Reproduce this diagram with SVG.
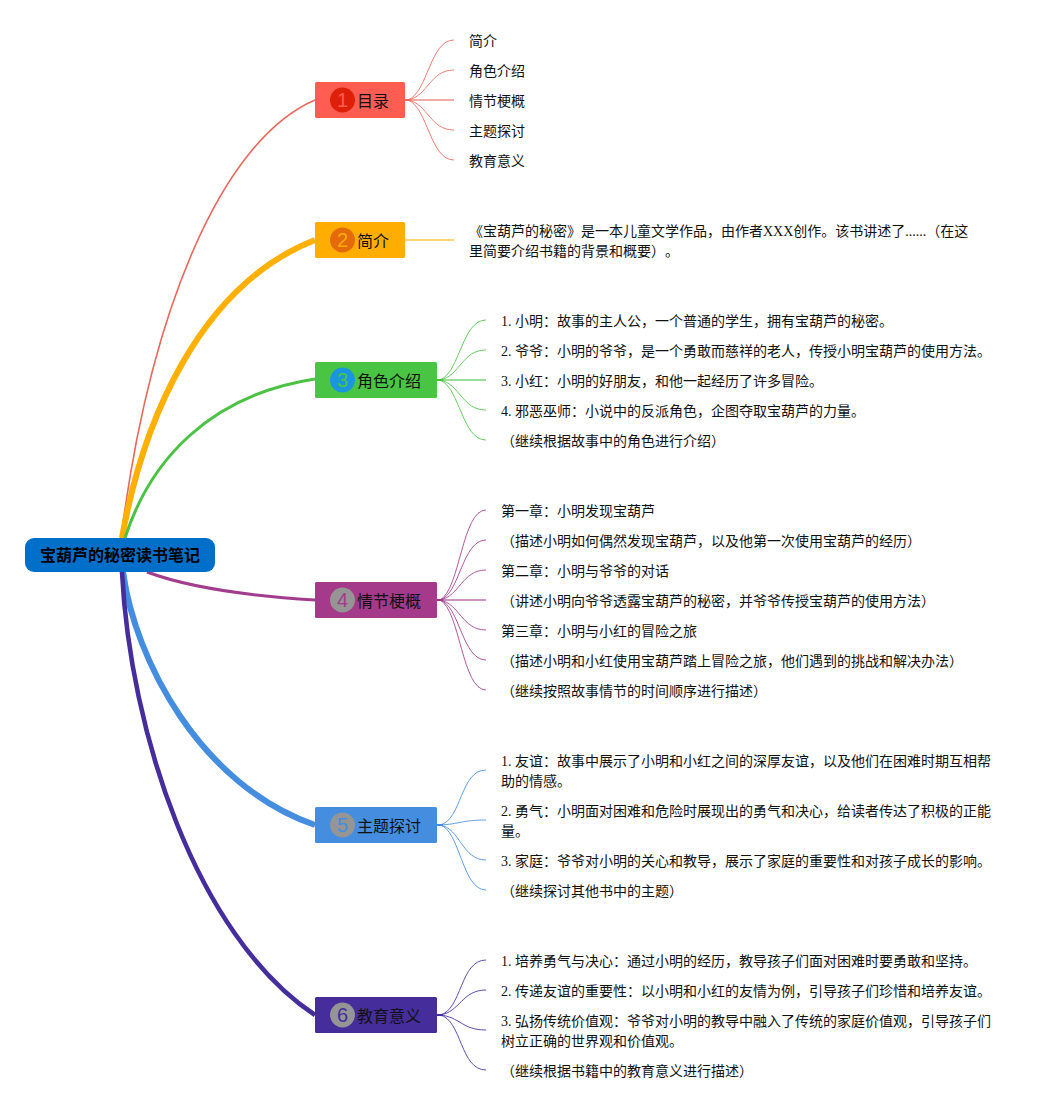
<svg xmlns="http://www.w3.org/2000/svg" width="1061" height="1110" viewBox="0 0 1061 1110">
<style>
text{font-family:"Liberation Serif","Noto Sans CJK SC",serif;font-size:14px;fill:#111;text-spacing-trim:space-all}
.t{font-family:"Noto Sans CJK SC","Liberation Sans",sans-serif;font-size:16px;fill:#111}
.n{font-family:"Liberation Sans",sans-serif;font-size:20px;text-anchor:middle}
.c{font-family:"Noto Sans CJK SC",sans-serif;font-size:16px;font-weight:700;text-anchor:middle;fill:#000}
.m,.s{fill:none}
.s{stroke-width:1;opacity:.85}
.d1{fill:#ff5c52}.d2{fill:#ffae00}.d3{fill:#49c443}.d4{fill:#a53a8b}.d5{fill:#448ddf}.d6{fill:#452d9c}
</style>
<rect width="1061" height="1110" fill="#fff"/>
<g id="connectors">
<g stroke="#e8685c">
<path class="m" stroke-width="1.600" d="M121 538C150 310 222 140 315 100"/>
<path class="m" stroke-width="2" d="M404 100H410"/>
<path class="s" d="M408 100C428 92 430 40 454 40M408 100C428 96 430 70 454 70M408 100C428 104 430 130 454 130M408 100C428 108 430 160 454 160"/>
<path class="m" stroke-width="2" opacity=".55" d="M408 100H454"/>
</g>
<g stroke="#ffb000">
<path class="m" stroke-width="6" d="M122 538C143 420 200 285 315 240"/>
<path class="m" stroke-width="2" opacity=".55" d="M404 240H454"/>
</g>
<g stroke="#4bc244">
<path class="m" stroke-width="3" d="M125 538C150 460 210 395 315 379"/>
<path class="m" stroke-width="2" d="M437 380H443"/>
<path class="s" d="M440 380C460 372 462 320 486 320M440 380C460 376 462 350 486 350M440 380C460 384 462 410 486 410M440 380C460 388 462 440 486 440"/>
<path class="m" stroke-width="2" opacity=".55" d="M440 380H486"/>
</g>
<g stroke="#a23c8d">
<path class="m" stroke-width="3" d="M147 572C190 588 250 596 315 600"/>
<path class="m" stroke-width="2" d="M437 600H443"/>
<path class="s" d="M440 600C460 590 462 510 486 510M440 600C460 594 462 540 486 540M440 600C460 596 462 570 486 570M440 600C460 604 462 630 486 630M440 600C460 606 462 660 486 660M440 600C460 610 462 690 486 690"/>
<path class="m" stroke-width="2" opacity=".55" d="M440 600H486"/>
</g>
<g stroke="#448ddf">
<path class="m" stroke-width="6" d="M123 572C135 660 200 785 315 825"/>
<path class="m" stroke-width="2" d="M437 825H443"/>
<path class="s" d="M440 825C462 820 460 770 486 770M440 825C460 824 462 820 486 820M440 825C460 828 462 860 486 860M440 825C460 830 462 890 486 890"/>
</g>
<g stroke="#452d9c">
<path class="m" stroke-width="4.600" d="M122 572C130 730 195 935 315 1015"/>
<path class="m" stroke-width="2" d="M437 1015H443"/>
<path class="s" d="M440 1015C462 1010 460 960 486 960M440 1015C460 1012 462 990 486 990M440 1015C460 1017 462 1030 486 1030M440 1015C462 1020 460 1070 486 1070"/>
</g>
</g>
<g id="root"><rect x="25" y="538" width="190" height="34" rx="9" fill="#006fc9"/><text class="c" x="120" y="561">宝葫芦的秘密读书笔记</text></g>
<g id="n1"><rect x="315" y="82" width="90" height="36" rx="1.5" fill="#ff5c52"/><circle cx="342.500" cy="100" r="12.500" fill="#de1f09"/><text class="n d1" x="342.500" y="107">1</text><text class="t" x="357" y="107">目录</text></g>
<g id="n2"><rect x="315" y="222" width="90" height="36" rx="1.5" fill="#ffae00"/><circle cx="342.500" cy="240" r="12.500" fill="#e56a0c"/><text class="n d2" x="342.500" y="247">2</text><text class="t" x="357" y="247">简介</text></g>
<g id="n3"><rect x="315" y="362" width="122" height="36" rx="1.5" fill="#49c443"/><circle cx="342.500" cy="380" r="12.500" fill="#1a97dc"/><text class="n d3" x="342.500" y="387">3</text><text class="t" x="357" y="387">角色介绍</text></g>
<g id="n4"><rect x="315" y="582" width="122" height="36" rx="1.500" fill="#a53a8b"/><circle cx="342.500" cy="600" r="12.500" fill="#959595"/><text class="n d4" x="342.500" y="607">4</text><text class="t" x="357" y="607">情节梗概</text></g>
<g id="n5"><rect x="315" y="807" width="122" height="36" rx="1.500" fill="#448ddf"/><circle cx="342.500" cy="825" r="12.500" fill="#959595"/><text class="n d5" x="342.500" y="832">5</text><text class="t" x="357" y="832">主题探讨</text></g>
<g id="n6"><rect x="315" y="997" width="122" height="36" rx="1.500" fill="#452d9c"/><circle cx="342.500" cy="1015" r="12.500" fill="#959595"/><text class="n d6" x="342.500" y="1022">6</text><text class="t" x="357" y="1022">教育意义</text></g>
<g id="leaves1"><text x="469" y="46">简介</text><text x="469" y="76">角色介绍</text><text x="469" y="106">情节梗概</text><text x="469" y="136">主题探讨</text><text x="469" y="166">教育意义</text></g>
<g id="leaves2"><text x="469" y="236">《宝葫芦的秘密》是一本儿童文学作品，由作者XXX创作。该书讲述了......（在这</text><text x="469" y="256">里简要介绍书籍的背景和概要）。</text></g>
<g id="leaves3"><text x="501" y="326">1. 小明：故事的主人公，一个普通的学生，拥有宝葫芦的秘密。</text><text x="501" y="356">2. 爷爷：小明的爷爷，是一个勇敢而慈祥的老人，传授小明宝葫芦的使用方法。</text><text x="501" y="386">3. 小红：小明的好朋友，和他一起经历了许多冒险。</text><text x="501" y="416">4. 邪恶巫师：小说中的反派角色，企图夺取宝葫芦的力量。</text><text x="501" y="446">（继续根据故事中的角色进行介绍）</text></g>
<g id="leaves4"><text x="501" y="516">第一章：小明发现宝葫芦</text><text x="501" y="546">（描述小明如何偶然发现宝葫芦，以及他第一次使用宝葫芦的经历）</text><text x="501" y="576">第二章：小明与爷爷的对话</text><text x="501" y="606">（讲述小明向爷爷透露宝葫芦的秘密，并爷爷传授宝葫芦的使用方法）</text><text x="501" y="636">第三章：小明与小红的冒险之旅</text><text x="501" y="666">（描述小明和小红使用宝葫芦踏上冒险之旅，他们遇到的挑战和解决办法）</text><text x="501" y="696">（继续按照故事情节的时间顺序进行描述）</text></g>
<g id="leaves5"><text x="501" y="766">1. 友谊：故事中展示了小明和小红之间的深厚友谊，以及他们在困难时期互相帮</text><text x="501" y="786">助的情感。</text><text x="501" y="816">2. 勇气：小明面对困难和危险时展现出的勇气和决心，给读者传达了积极的正能</text><text x="501" y="836">量。</text><text x="501" y="866">3. 家庭：爷爷对小明的关心和教导，展示了家庭的重要性和对孩子成长的影响。</text><text x="501" y="896">（继续探讨其他书中的主题）</text></g>
<g id="leaves6"><text x="501" y="966">1. 培养勇气与决心：通过小明的经历，教导孩子们面对困难时要勇敢和坚持。</text><text x="501" y="996">2. 传递友谊的重要性：以小明和小红的友情为例，引导孩子们珍惜和培养友谊。</text><text x="501" y="1026">3. 弘扬传统价值观：爷爷对小明的教导中融入了传统的家庭价值观，引导孩子们</text><text x="501" y="1046">树立正确的世界观和价值观。</text><text x="501" y="1076">（继续根据书籍中的教育意义进行描述）</text></g>
</svg>
